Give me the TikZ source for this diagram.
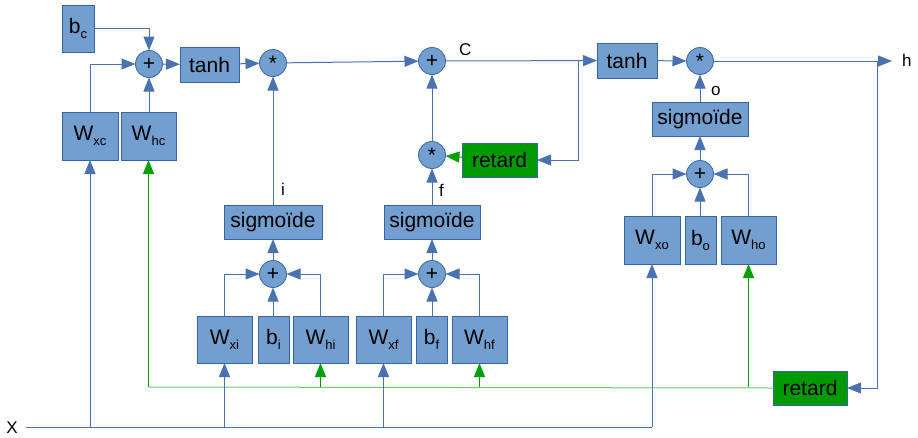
\documentclass[tikz,border=0pt]{standalone}
\usepackage{fontspec}
\setmainfont{Liberation Sans}
\usetikzlibrary{arrows.meta}
\definecolor{boxfill}{HTML}{729FCF}
\definecolor{boxline}{HTML}{3465A4}
\definecolor{wire}{HTML}{4A72B0}
\definecolor{gfill}{HTML}{009900}
\definecolor{gwire}{HTML}{66CC66}
\definecolor{gtip}{HTML}{00A000}
\newcommand{\sbx}[1]{\raisebox{-5pt}{\fontsize{13}{13}\selectfont #1}}
\begin{document}
\begin{tikzpicture}[x=1pt,y=-1pt,
  every node/.style={inner sep=0pt, outer sep=0pt, font=\fontsize{21}{24}\selectfont},
  bx/.style={draw=boxline, line width=0.8pt, fill=boxfill, rectangle},
  rbox/.style={draw=boxline, line width=0.8pt, fill=gfill, rectangle, minimum width=75pt, minimum height=34pt},
  op/.style={draw=boxline, line width=0.8pt, fill=boxfill, circle, minimum size=27pt},
  lbl/.style={font=\fontsize{17}{20}\selectfont},
  wl/.style={draw=wire, line width=1pt},
  arr/.style={wl, -{Triangle[length=14pt,width=11pt]}},
  gl/.style={draw=gwire, line width=1pt},
  garr/.style={draw=gtip, line width=1pt, -{Triangle[length=14pt,width=11pt]}}
]
\useasboundingbox (0,0) rectangle (918,437);

% cell candidate branch
\node[bx, minimum width=32pt, minimum height=47pt] (bc) at (78,28.5) {b\sbx{c}};
\node[bx, minimum width=56pt, minimum height=48pt] (Wxc) at (90,136) {W\sbx{xc}};
\node[bx, minimum width=55pt, minimum height=48pt] (Whc) at (148.5,136) {W\sbx{hc}};
\node[op] (plus1) at (149,64) {+};
\node[bx, minimum width=59pt, minimum height=35pt] (tanh1) at (209.5,64.5) {tanh};
\node[op] (mul1) at (273,63) {*};

% input gate
\node[bx, minimum width=98pt, minimum height=34pt] (sigI) at (273,222) {sigmoïde};
\node[op] (plusI) at (273,274) {+};
\node[bx, minimum width=55pt, minimum height=47pt] (Wxi) at (224.5,339.5) {W\sbx{xi}};
\node[bx, minimum width=31pt, minimum height=47pt] (bi) at (273.5,339.5) {b\sbx{i}};
\node[bx, minimum width=55pt, minimum height=47pt] (Whi) at (320.5,339.5) {W\sbx{hi}};

% forget gate
\node[bx, minimum width=96pt, minimum height=34pt] (sigF) at (432,222) {sigmoïde};
\node[op] (plusF) at (432,274) {+};
\node[bx, minimum width=55pt, minimum height=47pt] (Wxf) at (383.5,339.5) {W\sbx{xf}};
\node[bx, minimum width=31pt, minimum height=47pt] (bf) at (431.5,339.5) {b\sbx{f}};
\node[bx, minimum width=55pt, minimum height=47pt] (Whf) at (479.5,339.5) {W\sbx{hf}};

% cell state
\node[op] (plusC) at (432,61) {+};
\node[op] (mulF) at (432,155) {*};
\node[rbox] (ret1) at (499.5,160) {retard};
\node[bx, minimum width=60pt, minimum height=35pt] (tanh2) at (627,60.5) {tanh};

% output gate
\node[op] (mulO) at (700,61) {*};
\node[bx, minimum width=96pt, minimum height=34pt] (sigO) at (700,119) {sigmoïde};
\node[op] (plusO) at (700,174) {+};
\node[bx, minimum width=56pt, minimum height=48pt] (Wxo) at (652,240) {W\sbx{xo}};
\node[bx, minimum width=31pt, minimum height=48pt] (bo) at (700.5,240) {b\sbx{o}};
\node[bx, minimum width=55pt, minimum height=48pt] (Who) at (748.5,240) {W\sbx{ho}};
\node[rbox, minimum width=74pt] (ret2) at (810,388) {retard};

% labels and coordinates
\node[lbl] (Xlbl) at (12,428) {X};
\coordinate (xs) at (26,427);
\coordinate (hout) at (892,61);
\node[lbl, anchor=west] (hlbl) at (902,60) {h};
\coordinate (br1) at (578,61);
\coordinate (br2) at (877,61);
\coordinate (gc) at (148.5,387);
\coordinate (xe) at (652,427);

% candidate
\draw[arr] (bc.east) -| (plus1);
\draw[arr] (Wxc.north) |- (plus1);
\draw[arr] (Whc.north -| plus1) -- (plus1);
\draw[arr] (plus1) -- (tanh1);
\draw[arr] (tanh1) -- (mul1);
\draw[arr] (mul1) -- (plusC);
\draw[arr] (sigI) -- node[lbl, pos=0.12, right=8pt] {i} (mul1);

% input gate
\draw[arr] (plusI) -- (sigI);
\draw[arr] (Wxi.north) |- (plusI);
\draw[arr] (Whi.north) |- (plusI);
\draw[arr] (bi.north -| plusI) -- (plusI);

% forget gate
\draw[arr] (plusF) -- (sigF);
\draw[arr] (Wxf.north) |- (plusF);
\draw[arr] (Whf.north) |- (plusF);
\draw[arr] (bf.north -| plusF) -- (plusF);
\draw[arr] (sigF) -- node[lbl, pos=0.4, right=7pt] {f} (mulF);
\draw[arr] (mulF) -- (plusC);
\draw[garr] (ret1) -- (mulF);

% cell state
\draw[arr] (plusC) -- node[lbl, pos=0.13, above=5pt] {C} (tanh2);
\draw[arr] (br1) |- (ret1);
\draw[arr] (tanh2) -- (mulO);

% output gate
\draw[arr] (sigO) -- node[lbl, pos=0.4, right=11pt] {o} (mulO);
\draw[arr] (plusO) -- (sigO);
\draw[arr] (Wxo.north) |- (plusO);
\draw[arr] (Who.north) |- (plusO);
\draw[arr] (bo.north -| plusO) -- (plusO);
\draw[arr] (mulO) -- (hout);
\draw[arr] (br2) |- (ret2);

% delayed h (green)
\draw[gl] (ret2.west) -- (gc);
\draw[garr] (gc) -- (Whc);
\draw[garr] (Whi.south |- gc) -- (Whi);
\draw[garr] (Whf.south |- gc) -- (Whf);
\draw[garr] (Who.south |- gc) -- (Who);

% input x
\draw[wl] (xs) -- (xe);
\draw[arr] (Wxc.south |- xs) -- (Wxc);
\draw[arr] (Wxi.south |- xs) -- (Wxi);
\draw[arr] (Wxf.south |- xs) -- (Wxf);
\draw[arr] (xe) -- (Wxo);
\end{tikzpicture}
\end{document}
